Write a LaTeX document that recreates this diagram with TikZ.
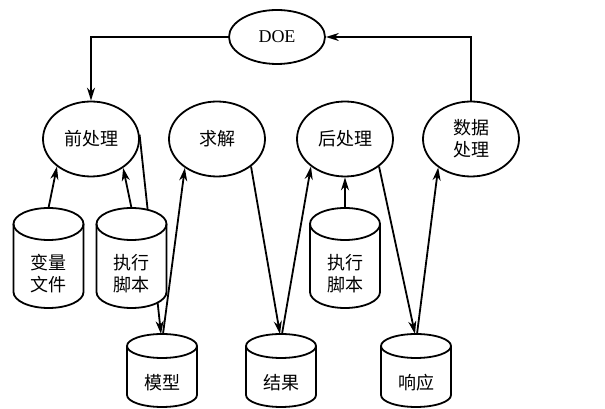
\documentclass[tikz,border=0pt]{standalone}
\usepackage{fontspec}
\setmainfont{Liberation Serif}
\newfontfamily\cjk{Noto Sans CJK SC}
\usetikzlibrary{arrows.meta,shapes.geometric}
\tikzset{
  ln/.style={line width=1.8pt},
  arr/.style={ln,-{Stealth[length=13pt,width=8pt,inset=4pt]}},
  proc/.style={ellipse,draw,ln,inner sep=0pt,minimum width=96pt,minimum height=75pt,
    font=\cjk\fontsize{18}{22}\selectfont,align=center},
  cyltext/.style={inner sep=0pt,font=\cjk\fontsize{18}{22}\selectfont,align=center},
  cylline/.style={ln,fill=white}
}
% #1 name, #2 cx, #3 Ytop, #4 Ybot, #5 ry, #6 text
\newcommand\dbcyl[6]{%
  \filldraw[cylline] ({#2-35},{#3-#5}) -- ({#2-35},{#4+#5})
    arc[start angle=180,end angle=360,x radius=35pt,y radius=#5pt]
    -- ({#2+35},{#3-#5})
    arc[start angle=0,end angle=180,x radius=35pt,y radius=#5pt] -- cycle;
  \draw[ln] ({#2-35},{#3-#5}) arc[start angle=180,end angle=360,x radius=35pt,y radius=#5pt];
  \coordinate (#1top) at (#2,#3);
  \node[cyltext] (#1) at (#2,{(#3-2*#5+#4)/2}) {#6};
}
\begin{document}
\begin{tikzpicture}[x=1pt,y=1pt]
\useasboundingbox (0,0) rectangle (605,409);
\node[proc,minimum height=54pt,font=\fontsize{18}{22}\selectfont] (doe) at (277,372) {DOE};
\node[proc] (pre) at (91,270) {前处理};
\node[proc] (sol) at (217,270) {求解};
\node[proc] (post) at (345,270) {后处理};
\node[proc] (dp) at (471,270) {数据\\处理};
\coordinate (mxtop) at (162,75);
\draw[arr] (pre.5) -- ([xshift=-1pt]mxtop);
\dbcyl{var}{48.5}{201}{101}{16}{变量\\文件}
\dbcyl{exa}{131.5}{201}{101}{16}{执行\\脚本}
\dbcyl{exb}{345}{201}{101}{16}{执行\\脚本}
\dbcyl{mx}{162}{75}{2}{12}{模型}
\dbcyl{jg}{281}{75}{2}{12}{结果}
\dbcyl{xy}{416}{75}{2}{12}{响应}
\draw[arr] (doe.west) -| (pre.north);
\draw[arr] (dp.north) |- (doe.east);
\draw[arr] (vartop) -- (pre.219);
\draw[arr] (exatop) -- (pre.318);
\draw[arr] ([xshift=1pt]mxtop) -- (sol.222);
\draw[arr] (sol.321) -- ([xshift=-1pt]jgtop);
\draw[arr] ([xshift=1pt]jgtop) -- (post.219);
\draw[arr] (exbtop) -- (post.south);
\draw[arr] (post.321) -- ([xshift=-1pt]xytop);
\draw[arr] ([xshift=1pt]xytop) -- (dp.221);
\end{tikzpicture}
\end{document}
